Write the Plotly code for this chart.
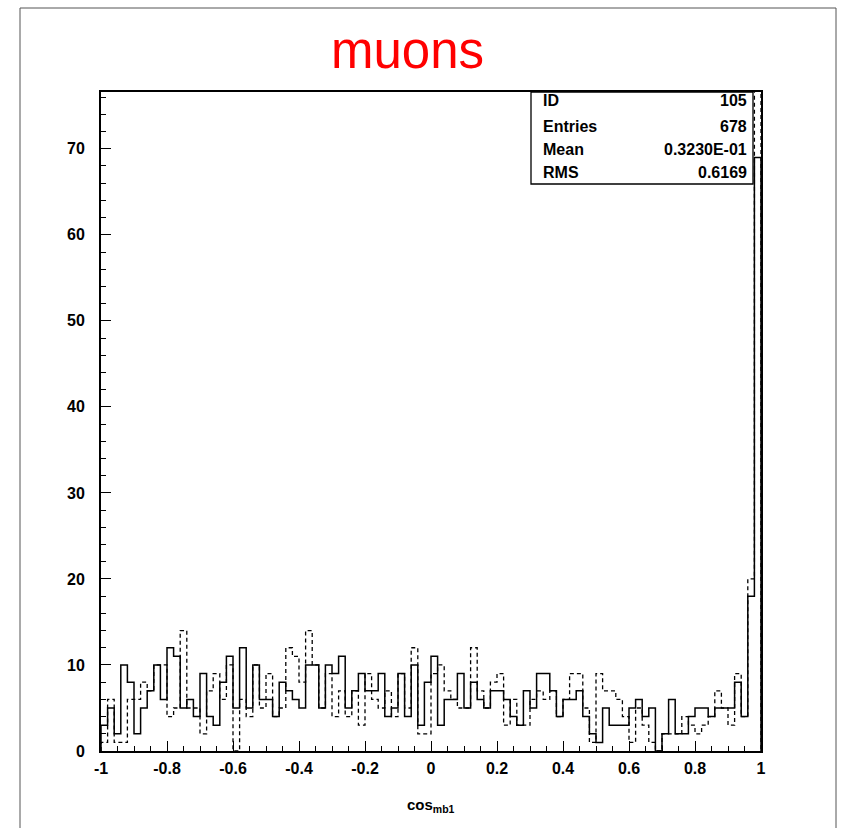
import numpy as np
import plotly.graph_objects as go

# ---- data ----
x_min, x_max, n_bins = -1.0, 1.0, 100
solid_counts = [3, 5, 2, 10, 8, 2, 5, 7, 10, 6,
                12, 11, 5, 6, 4, 9, 4, 3, 8, 11,
                5, 12, 5, 10, 6, 6, 4, 8, 7, 6,
                5, 10, 10, 5, 10, 9, 11, 5, 7, 9,
                7, 7, 9, 4, 5, 9, 4, 10, 3, 8,
                11, 3, 6, 6, 9, 5, 8, 6, 5, 7,
                7, 6, 4, 3, 7, 5, 9, 9, 7, 4,
                6, 6, 7, 4, 2, 1, 5, 3, 3, 3,
                5, 6, 4, 5, 0, 2, 6, 2, 2, 4,
                5, 5, 4, 5, 5, 5, 8, 4, 18, 69]
dashed_counts = [1, 6, 1, 1, 6, 6, 8, 7, 10, 10,
                 4, 5, 14, 5, 5, 2, 7, 9, 6, 10,
                 0, 6, 4, 10, 5, 9, 4, 5, 12, 11,
                 8, 14, 10, 5, 9, 4, 7, 4, 7, 3,
                 9, 6, 5, 7, 4, 9, 5, 12, 2, 2,
                 9, 10, 7, 6, 5, 5, 12, 7, 5, 8,
                 9, 3, 6, 3, 3, 6, 7, 6, 7, 4,
                 6, 9, 9, 5, 1, 9, 7, 7, 6, 4,
                 1, 5, 3, 1, 0, 2, 2, 2, 4, 3,
                 2, 3, 4, 7, 5, 3, 9, 4, 20, 85]
x_ticks = [-1, -0.8, -0.6, -0.4, -0.2, 0, 0.2, 0.4, 0.6, 0.8, 1]
x_tick_text = ["-1", "-0.8", "-0.6", "-0.4", "-0.2", "0", "0.2", "0.4", "0.6", "0.8", "1"]
y_ticks = [0, 10, 20, 30, 40, 50, 60, 70]
stat_labels = ["ID", "Entries", "Mean", "RMS"]
stat_values = ["105", "678", "0.3230E-01", "0.6169"]
title_text = "muons"
x_title = "cos<sub>mb1</sub>"

# ---- geometry helpers ----
W, H = 846, 828
L, R, T, B = 101, 761, 92, 751          # plot-area pixel box
pw, ph = R - L, B - T
def px(X): return (X - L) / pw
def py(Y): return (B - Y) / ph

edges = np.linspace(x_min, x_max, n_bins + 1)

def step(counts):
    xs = [edges[0]] + list(edges[:-1]) + [edges[-1], edges[-1]]
    ys = [0] + list(counts) + [counts[-1], 0]
    return xs, ys

fig = go.Figure()
xs, ys = step(dashed_counts)
fig.add_trace(go.Scatter(x=xs, y=ys, mode="lines", line_shape="hv",
                         line=dict(color="black", width=1.3, dash="4px,3px"),
                         showlegend=False, hoverinfo="skip"))
xs, ys = step(solid_counts)
fig.add_trace(go.Scatter(x=xs, y=ys, mode="lines", line_shape="hv",
                         line=dict(color="black", width=1.5),
                         showlegend=False, hoverinfo="skip"))

FONT = "Liberation Sans, Arial, sans-serif"
tickfont = dict(family=FONT, size=16, color="black", weight="bold")

fig.update_layout(
    width=W, height=H,
    margin=dict(l=L, r=W - R, t=T, b=H - B, pad=0),
    paper_bgcolor="white", plot_bgcolor="white",
    xaxis=dict(range=[x_min, x_max], tickmode="array", tickvals=x_ticks, ticktext=x_tick_text,
               ticks="inside", ticklen=10, tickwidth=1.2, tickcolor="black",
               minor=dict(dtick=0.05, tick0=-1, ticks="inside", ticklen=5, tickwidth=1.2, tickcolor="black"),
               showline=True, linecolor="black", linewidth=2, mirror=True,
               showgrid=False, zeroline=False, tickfont=tickfont, ticklabelstandoff=2),
    yaxis=dict(range=[0, 76.6], tickmode="array", tickvals=y_ticks,
               ticks="inside", ticklen=10, tickwidth=1.2, tickcolor="black",
               minor=dict(dtick=2, tick0=0, ticks="inside", ticklen=5, tickwidth=1.2, tickcolor="black"),
               showline=True, linecolor="black", linewidth=2, mirror=True,
               showgrid=False, zeroline=False, tickfont=tickfont, ticklabelstandoff=11),
)

shapes = []
# outer page frame
shapes.append(dict(type="rect", xref="paper", yref="paper",
                   x0=px(20), x1=px(836), y0=py(828 + 5), y1=py(8),
                   line=dict(color="#555555", width=1), fillcolor="rgba(0,0,0,0)", layer="below"))
# stats box
shapes.append(dict(type="rect", xref="paper", yref="paper",
                   x0=px(531), x1=px(753), y0=py(184), y1=py(92),
                   line=dict(color="black", width=1.3), fillcolor="white", layer="above"))
fig.update_layout(shapes=shapes)

annotations = []
annotations.append(dict(text=title_text, xref="paper", yref="paper", x=px(407), y=py(50),
                        xanchor="center", yanchor="middle", showarrow=False,
                        font=dict(family=FONT, size=51, color="#ff0000")))
annotations.append(dict(text=x_title, xref="paper", yref="paper", x=px(431), y=py(806),
                        xanchor="center", yanchor="middle", showarrow=False,
                        font=dict(family=FONT, size=15, color="black", weight="bold")))
row_y = [101, 126, 149, 172]
for lab, val, yy in zip(stat_labels, stat_values, row_y):
    annotations.append(dict(text=lab, xref="paper", yref="paper", x=px(541), y=py(yy),
                            xanchor="left", yanchor="middle", showarrow=False,
                            font=dict(family=FONT, size=16, color="black", weight="bold")))
    annotations.append(dict(text=val, xref="paper", yref="paper", x=px(749), y=py(yy),
                            xanchor="right", yanchor="middle", showarrow=False,
                            font=dict(family=FONT, size=16, color="black", weight="bold")))
fig.update_layout(annotations=annotations)

fig.write_html("out.html")
